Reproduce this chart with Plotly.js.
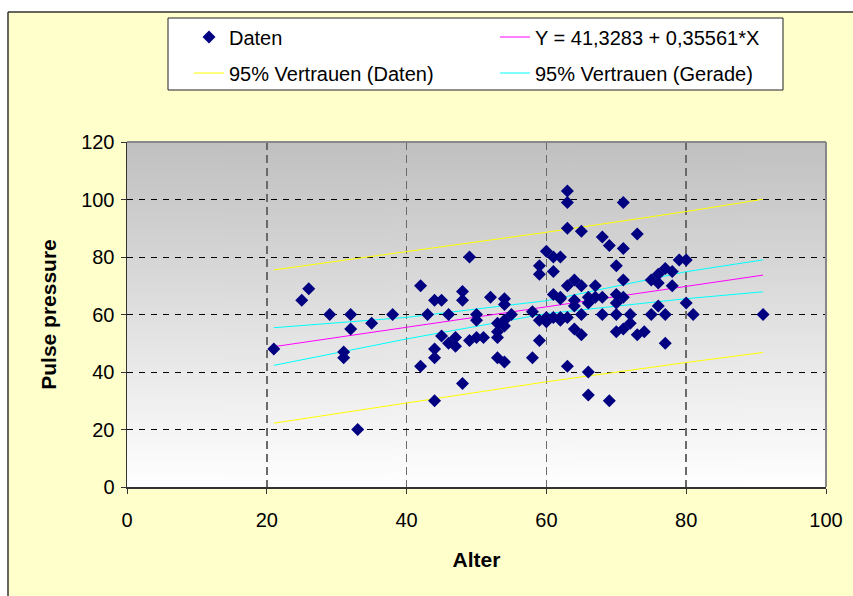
<!DOCTYPE html>
<html><head><meta charset="utf-8">
<script src="https://cdn.plot.ly/plotly-3.0.1.min.js"></script>
<style>html,body{margin:0;padding:0;background:#fff}</style>
</head><body><div id="chart" style="width:853px;height:596px"></div>
<script>
// ---- data ----
const alter = [21,25,26,29,31,31,32,32,33,35,38,
  42,42,43,44,45,44,44,44,45,46,46,47,47,48,48,48,49,49,50,50,50,51,52,53,53,53,53,54,54,54,54,54,55,58,58,
  59,59,59,59,60,60,60,61,61,61,61,62,62,62,62,62,63,63,63,63,63,63,
  64,64,64,64,65,65,65,65,66,66,66,66,67,67,68,68,68,69,69,
  70,70,70,70,70,71,71,71,71,71,72,72,73,73,74,75,75,76,76,76,77,77,77,78,78,79,80,80,81,91];
const pulsePressure = [48,65,69,60,47,45,60,55,20,57,60,
  70,42,60,65,65,48,45,30,52.5,60,50,52,49,68,65,36,80,51,60,58,52,52,66,57,54,52,45,65.5,63.5,43.5,58,56,60,61,45,
  77,74,58,51,82,57.5,59,80,75,67,59,80,65.5,59,66,58,103,99,90,70,42,59,
  72,65,63,55,89,70,60,53,64,40,32,66,70,66,87,66,60,84,30,
  77,67,64,60,54,99,83,72,66,55,60,57,88,53,54,72,60,74,71,63,76,60,50,75,70,79,79,64,60,60];
const regX = [21, 91];
const regY = [48.8, 73.7];
const bandX = [21, 40, 60, 80, 91];
const predUpper = [75.5, 81.9, 88.6, 95.8, 100.1];
const predLower = [22.2, 29.2, 36.6, 43.3, 46.8];
const confUpper = [55.4, 59.0, 64.8, 74.9, 79.0];
const confLower = [42.3, 51.5, 60.3, 65.5, 67.9];
const xTicks = [0, 20, 40, 60, 80, 100];
const yTicks = [0, 20, 40, 60, 80, 100, 120];
const names = ['Daten', 'Y = 41,3283 + 0,35561*X', '95% Vertrauen (Daten)', '95% Vertrauen (Gerade)'];

// ---- layout helpers (pixel -> paper) ----
const L = 127, R = 826, T = 142, B = 487;
const px = x => (x - L) / (R - L);
const py = y => (B - y) / (B - T);
const FONT = 'Liberation Sans, Arial, sans-serif';

// gradient background for plot area
const cv = document.createElement('canvas');
cv.width = 4; cv.height = 345;
const ctx = cv.getContext('2d');
const g = ctx.createLinearGradient(0, 0, 0, 345);
g.addColorStop(0, '#c0c0c0'); g.addColorStop(1, '#ffffff');
ctx.fillStyle = g; ctx.fillRect(0, 0, 4, 345);
const bgURL = cv.toDataURL('image/png');

const traces = [
  {x: bandX, y: predUpper, mode: 'lines', name: names[2], legend: 'legend2', legendrank: 1,
   line: {color: '#FFFF00', width: 1}},
  {x: bandX, y: predLower, mode: 'lines', showlegend: false, line: {color: '#FFFF00', width: 1}},
  {x: bandX, y: confUpper, mode: 'lines', name: names[3], legend: 'legend2', legendrank: 2,
   line: {color: '#00FFFF', width: 1}},
  {x: bandX, y: confLower, mode: 'lines', showlegend: false, line: {color: '#00FFFF', width: 1}},
  {x: regX, y: regY, mode: 'lines', name: names[1], legend: 'legend', legendrank: 2,
   line: {color: '#FF00FF', width: 1}},
  {x: alter, y: pulsePressure, mode: 'markers', name: names[0], legend: 'legend', legendrank: 1,
   marker: {symbol: 'diamond', size: 10, color: '#000080', line: {width: 0}}}
];

const legendBase = {
  orientation: 'h', xanchor: 'left', yanchor: 'middle', x: px(189),
  bgcolor: 'rgba(0,0,0,0)', borderwidth: 0, entrywidth: 261, entrywidthmode: 'pixels',
  font: {family: FONT, size: 20, color: '#000'}
};

const layout = {
  width: 853, height: 596,
  margin: {l: L, r: 853 - R, t: T, b: 596 - B},
  paper_bgcolor: '#FFFFCC', plot_bgcolor: 'rgba(0,0,0,0)',
  font: {family: FONT, size: 20, color: '#000'},
  showlegend: true,
  legend: Object.assign({}, legendBase, {y: py(37)}),
  legend2: Object.assign({}, legendBase, {y: py(73)}),
  xaxis: {
    range: [0, 100], tickvals: xTicks, ticktext: xTicks.map(String),
    ticks: 'outside', ticklen: 5, tickcolor: '#333', tickwidth: 1,
    showline: true, linecolor: '#333', linewidth: 1.5, zeroline: false,
    showgrid: true, gridcolor: '#6a6a6a', gridwidth: 1.5, griddash: '8px,5px',
    tickfont: {family: FONT, size: 20, color: '#000'}, ticklabelstandoff: 9,
    title: {text: 'Alter', font: {family: FONT, size: 21, color: '#000', weight: 'bold'}, standoff: 23},
    automargin: false, fixedrange: true
  },
  yaxis: {
    range: [0, 120], tickvals: yTicks, ticktext: yTicks.map(String),
    ticks: 'outside', ticklen: 5, tickcolor: '#333', tickwidth: 1,
    showline: true, linecolor: '#333', linewidth: 1.5, zeroline: false,
    showgrid: true, gridcolor: '#000', gridwidth: 1, griddash: '6px,6px',
    tickfont: {family: FONT, size: 20, color: '#000'}, ticklabelstandoff: 2,
    title: {text: 'Pulse pressure', font: {family: FONT, size: 21, color: '#000', weight: 'bold'}, standoff: 19},
    automargin: false, fixedrange: true
  },
  images: [{source: bgURL, xref: 'paper', yref: 'paper', x: 0, y: 1, sizex: 1, sizey: 1,
            sizing: 'stretch', xanchor: 'left', yanchor: 'top', layer: 'below'}],
  shapes: [
    {type: 'rect', xref: 'paper', yref: 'paper', x0: px(0), x1: px(853), y0: py(12), y1: py(0),
     fillcolor: '#ffffff', line: {width: 0}, layer: 'below'},
    {type: 'rect', xref: 'paper', yref: 'paper', x0: px(0), x1: px(8), y0: py(596), y1: py(0),
     fillcolor: '#ffffff', line: {width: 0}, layer: 'below'},
    {type: 'line', xref: 'paper', yref: 'paper', x0: px(8), x1: px(8), y0: py(596), y1: py(12),
     line: {color: '#333', width: 1.5}},
    {type: 'line', xref: 'paper', yref: 'paper', x0: px(8), x1: px(853), y0: py(12), y1: py(12),
     line: {color: '#333', width: 1.5}},
    {type: 'rect', xref: 'paper', yref: 'paper', x0: px(168), x1: px(783), y0: py(90), y1: py(18),
     fillcolor: '#ffffff', line: {color: '#222', width: 1}, layer: 'below'},
    {type: 'line', xref: 'paper', yref: 'paper', x0: 0, x1: 1, y0: 1, y1: 1,
     line: {color: '#888', width: 2}},
    {type: 'line', xref: 'paper', yref: 'paper', x0: 1, x1: 1, y0: 0, y1: 1,
     line: {color: '#888', width: 2}}
  ]
};

Plotly.newPlot('chart', traces, layout, {staticPlot: true, displayModeBar: false});
</script></body></html>
